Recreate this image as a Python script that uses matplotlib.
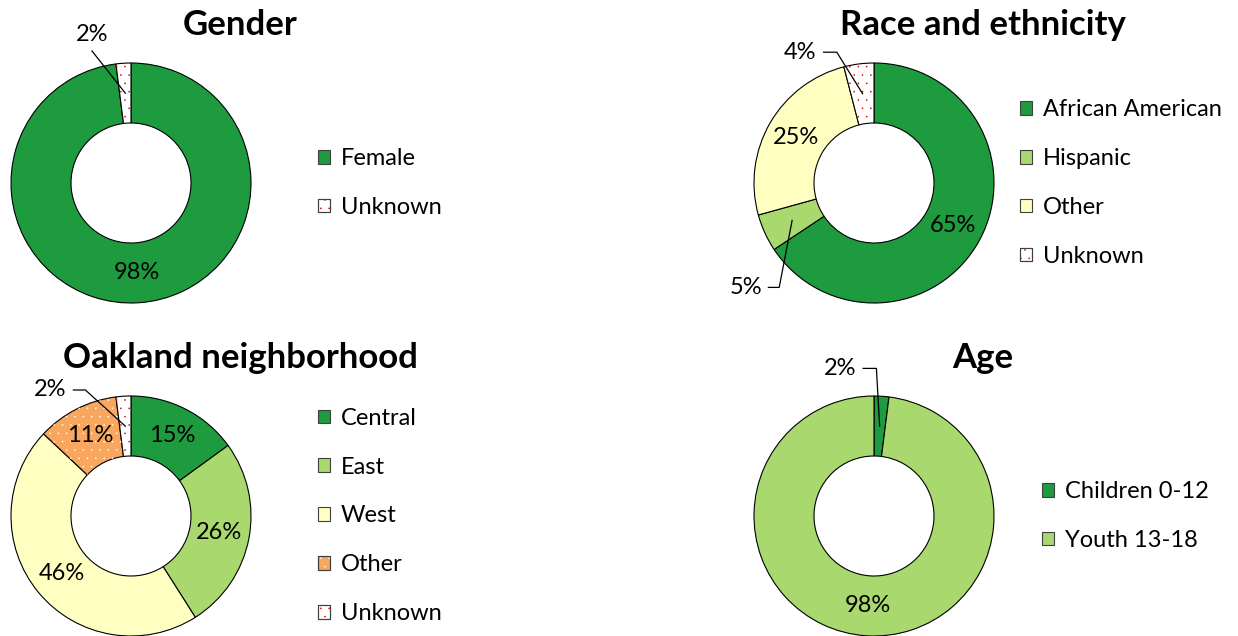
import matplotlib
matplotlib.use("Agg")
import matplotlib.pyplot as plt
from matplotlib.patches import Wedge, Patch
import numpy as np

plt.rcParams['font.family'] = ['Lato', 'DejaVu Sans']
plt.rcParams['hatch.linewidth'] = 0.0

W, H = 1238, 636

gender_labels = ['Female', 'Unknown']
gender_values = [98, 2]

race_labels = ['African American', 'Hispanic', 'Other', 'Unknown']
race_values = [65, 5, 25, 4]

hood_labels = ['Central', 'East', 'West', 'Other', 'Unknown']
hood_values = [15, 26, 46, 11, 2]

age_labels = ['Children 0-12', 'Youth 13-18']
age_values = [2, 98]

DARK = '#1E9A3F'
LIGHT = '#A9D86E'
PALE = '#FFFFC1'
ORANGE = '#F9A75E'
WHITE = '#FFFFFF'

# face colour, hatch colour (None = plain)
gender_style = [(DARK, None), (WHITE, '#D40000')]
race_style = [(DARK, None), (LIGHT, None), (PALE, None), (WHITE, '#D40000')]
hood_style = [(DARK, None), (LIGHT, None), (PALE, None), (ORANGE, WHITE), (WHITE, '#D40000')]
age_style = [(DARK, None), (LIGHT, None)]

FS = 17


def donut(cx, cy, values, labels, style, title, title_x, leg_x, leaders):
    """cx, cy: ring centre in pixels from top-left; radius 120 px."""
    r = 120
    ax = fig.add_axes([(cx - r) / W, (H - cy - r) / H, 2 * r / W, 2 * r / H])
    wedges, _ = ax.pie(values, colors=[s[0] for s in style], startangle=90,
                       counterclock=False, radius=1,
                       wedgeprops=dict(width=0.5, edgecolor='black', linewidth=0.8))
    ax.set_xlim(-1, 1)
    ax.set_ylim(-1, 1)
    ax.set_aspect('equal')
    ax.axis('off')
    handles = []
    total = float(sum(values))
    cum = 0.0
    for i, (w, v) in enumerate(zip(wedges, values)):
        w.set_clip_on(False)
        fc, hc = style[i]
        h = Patch(facecolor=fc, edgecolor='#404040', linewidth=0.8)
        if hc is not None:
            dots = Wedge(w.center, w.r, w.theta1, w.theta2, width=w.width,
                         facecolor='none', edgecolor=hc, linewidth=0, hatch='..')
            dots.set_clip_on(False)
            ax.add_patch(dots)
            h = (h, Patch(facecolor='none', edgecolor=hc, linewidth=0, hatch='..'),
                 Patch(facecolor='none', edgecolor='#404040', linewidth=0.8))
        handles.append(h)
        mid = np.deg2rad(90 - 360 * (cum + v / 2) / total)
        cum += v
        px, py = 0.75 * np.cos(mid), 0.75 * np.sin(mid)
        txt = f'{v}%'
        if i in leaders:
            # label position, then leader line: start x, start y, elbow x
            tx, ty, sx, sy, ex = leaders[i]
            ax.text(tx, ty, txt, ha='center', va='center', fontsize=FS, clip_on=False)
            ax.plot([sx, ex, px], [sy, sy, py], color='black', lw=0.9, clip_on=False,
                    solid_joinstyle='miter')
        else:
            ax.text(px, py, txt, ha='center', va='center', fontsize=FS)
    fig.text(title_x / W, 1 - (cy - 158) / H, title, ha='center', va='center',
             fontsize=25, fontweight='bold')
    fig.legend(handles, labels, loc='center left',
               bbox_to_anchor=(leg_x / W, 1 - cy / H), frameon=False, fontsize=FS,
               borderpad=0, borderaxespad=0, handlelength=0.52, handleheight=0.52,
               handletextpad=0.45, labelspacing=1.18)


fig = plt.figure(figsize=(W / 100, H / 100), dpi=100)

donut(131, 183, gender_values, gender_labels, gender_style, 'Gender', 240, 318,
      {1: (-0.32, 1.24, -0.325, 1.1, -0.325)})
donut(874, 183, race_values, race_labels, race_style, 'Race and ethnicity', 983, 1020,
      {3: (-0.62, 1.09, -0.42, 1.09, -0.31), 1: (-1.07, -0.87, -0.88, -0.87, -0.79)})
donut(131, 516, hood_values, hood_labels, hood_style, 'Oakland neighborhood', 240, 318,
      {4: (-0.67, 1.05, -0.48, 1.05, -0.38)})
donut(874, 516, age_values, age_labels, age_style, 'Age', 983, 1042,
      {0: (-0.28, 1.23, -0.09, 1.23, 0.02)})

fig.savefig('out.png', dpi=100)
